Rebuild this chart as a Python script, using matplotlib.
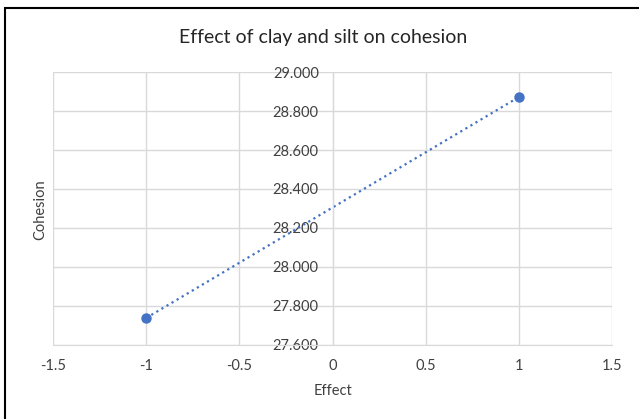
import matplotlib.pyplot as plt
from matplotlib.patches import Rectangle

effect = [-1, 1]
cohesion = [27.738, 28.872]
xticks = [-1.5, -1, -0.5, 0, 0.5, 1, 1.5]
yticks = [27.6, 27.8, 28.0, 28.2, 28.4, 28.6, 28.8, 29.0]

plt.rcParams['font.family'] = ['Lato', 'DejaVu Sans']
fig = plt.figure(figsize=(6.39, 4.19), dpi=100)
ax = fig.add_axes([0.083, 0.177, 0.875, 0.651])

grid_c = '#d9d9d9'
ax.plot(effect, cohesion, linestyle=':', color='#4472C4', linewidth=1.6,
        marker='o', markersize=6.5, markerfacecolor='#4472C4', markeredgecolor='#4472C4')

ax.set_xlim(-1.5, 1.5)
ax.set_ylim(27.6, 29.0)
ax.set_xticks(xticks)
ax.set_xticklabels(['-1.5', '-1', '-0.5', '0', '0.5', '1', '1.5'])
ax.set_yticks(yticks)
ax.set_yticklabels([f"{v:.3f}" for v in yticks])
ax.grid(True, color=grid_c, linewidth=1)
ax.set_axisbelow(True)

for s in ['top', 'right']:
    ax.spines[s].set_visible(False)
ax.spines['left'].set_position(('data', 0))
ax.spines['left'].set_color(grid_c)
ax.spines['bottom'].set_color(grid_c)
ax.tick_params(axis='both', length=0, labelsize=10.5, labelcolor='#404040')
ax.tick_params(axis='x', pad=10)
ax.tick_params(axis='y', pad=10)

ax.set_xlabel('Effect', fontsize=10.5, color='#404040', labelpad=8)
fig.text(0.063, 0.5, 'Cohesion', rotation=90, fontsize=10.5, color='#404040',
         ha='center', va='center')
fig.text(0.505, 0.91, 'Effect of clay and silt on cohesion', fontsize=14,
         color='#262626', ha='center', va='center')

# outer chart frame (left and top edges visible)
fig.patches.append(Rectangle((0.008, -0.1), 1.2, 1.08, transform=fig.transFigure,
                             fill=False, edgecolor='black', linewidth=1.5))

fig.savefig('out.png', dpi=100)
